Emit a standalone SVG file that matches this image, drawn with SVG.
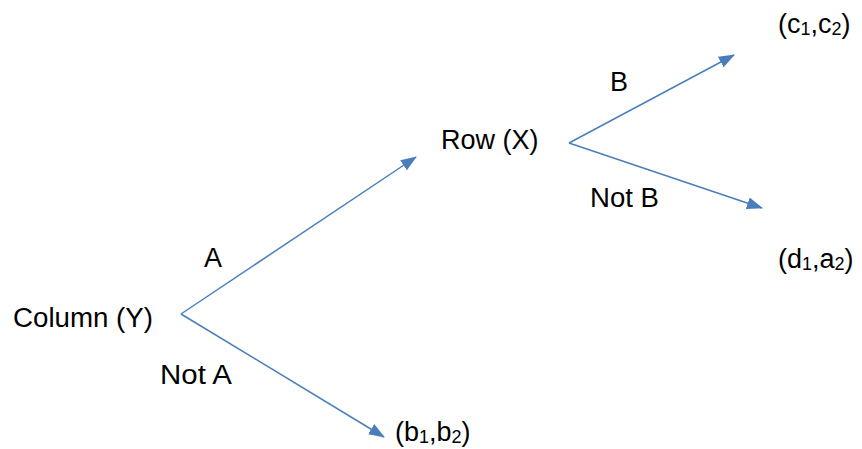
<svg xmlns="http://www.w3.org/2000/svg" width="862" height="449" viewBox="0 0 862 449">
<style>
text{font-family:"Liberation Sans",Arial,sans-serif;font-size:27px;fill:#000}
.sub{font-size:18px}
.edge{stroke:#4A7EBB;stroke-width:1.5;fill:none}
</style>
<defs>
<marker id="arr" markerWidth="16" markerHeight="12" refX="15" refY="6" orient="auto" markerUnits="userSpaceOnUse">
<path d="M0,0 L16,6 L0,12 z" fill="#4A7EBB"/>
</marker>
</defs>
<rect width="862" height="449" fill="#fff"/>
<g id="connectors">
<path class="edge" d="M181,314 L416,157" marker-end="url(#arr)"/>
<path class="edge" d="M181,314 L384,437" marker-end="url(#arr)"/>
<path class="edge" d="M569,143 L734,55" marker-end="url(#arr)"/>
<path class="edge" d="M569,143 L762,208" marker-end="url(#arr)"/>
</g>
<g id="column"><text x="13" y="327" textLength="140" lengthAdjust="spacingAndGlyphs">Column (Y)</text></g>
<g id="row"><text x="441" y="149">Row (X)</text></g>
<g id="b1b2"><text x="395" y="441">(b<tspan class="sub" dy="2">1</tspan><tspan dy="-2">,b</tspan><tspan class="sub" dy="2">2</tspan><tspan dy="-2">)</tspan></text></g>
<g id="c1c2"><text x="778" y="33">(c<tspan class="sub" dy="2">1</tspan><tspan dy="-2">,c</tspan><tspan class="sub" dy="2">2</tspan><tspan dy="-2">)</tspan></text></g>
<g id="d1a2"><text x="778" y="268">(d<tspan class="sub" dy="2">1</tspan><tspan dy="-2">,a</tspan><tspan class="sub" dy="2">2</tspan><tspan dy="-2">)</tspan></text></g>
<g id="labels">
<text x="204" y="267">A</text>
<text x="160" y="384" textLength="72" lengthAdjust="spacingAndGlyphs">Not A</text>
<text x="610" y="91">B</text>
<text x="590" y="207" textLength="69" lengthAdjust="spacingAndGlyphs">Not B</text>
</g>
</svg>
